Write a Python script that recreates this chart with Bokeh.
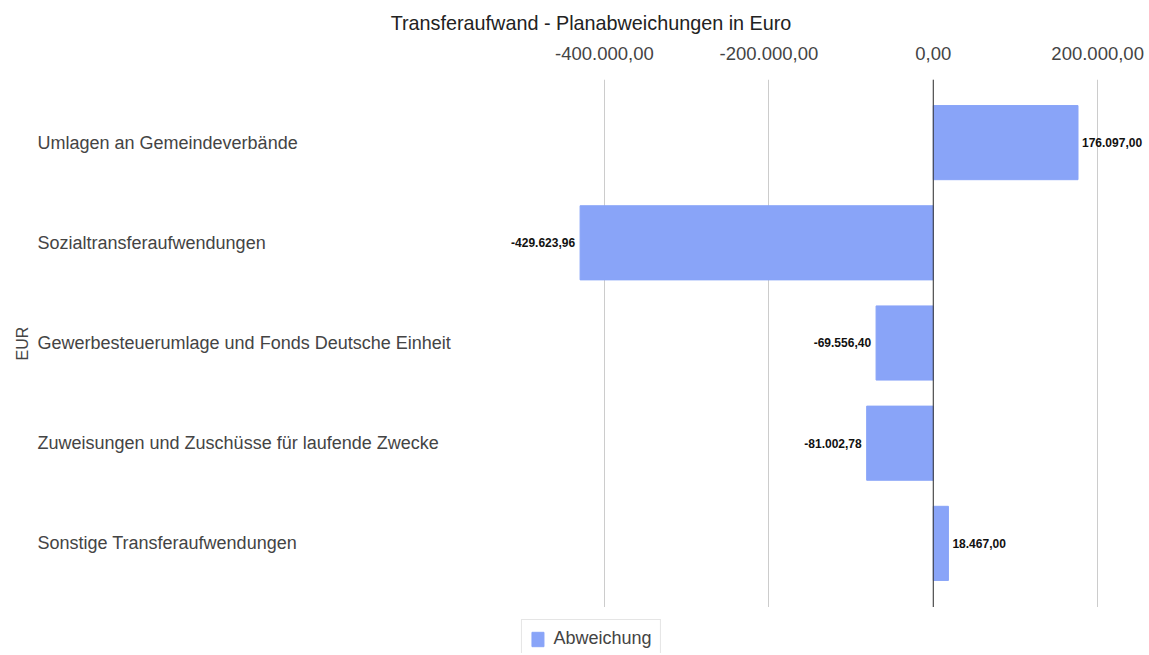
from bokeh.plotting import figure
from bokeh.layouts import column
from bokeh.models import Range1d, FixedTicker, Span, Legend, LegendItem, ColumnDataSource
from bokeh.core.properties import value
from bokeh.embed import file_html
from bokeh.resources import INLINE

categories = [
    "Umlagen an Gemeindeverbände",
    "Sozialtransferaufwendungen",
    "Gewerbesteuerumlage und Fonds Deutsche Einheit",
    "Zuweisungen und Zuschüsse für laufende Zwecke",
    "Sonstige Transferaufwendungen",
]
abweichung = [176097.00, -429623.96, -69556.40, -81002.78, 18467.00]
tick_values = [-400000, -200000, 0, 200000]
tick_labels = ["-400.000,00", "-200.000,00", "0,00", "200.000,00"]
series_name = "Abweichung"

FONT = "Liberation Sans"
BAR_COLOR = "#89A4F8"


def de_fmt(v):
    s = f"{abs(v):,.2f}".replace(",", "X").replace(".", ",").replace("X", ".")
    return ("-" if v < 0 else "") + s


pos = list(range(len(categories)))
src = ColumnDataSource(dict(
    y=pos, v=abweichung, cat=categories,
    lbl=[de_fmt(v) for v in abweichung],
))

X_START, X_END = -1090900, 258200

p = figure(width=1145, height=607, output_backend="svg", toolbar_location=None,
           x_range=Range1d(X_START, X_END), y_range=Range1d(4.64, -0.63),
           x_axis_location="above",
           title="Transferaufwand - Planabweichungen in Euro")
p.min_border_left = 0
p.min_border_right = 0
p.min_border_top = 0
p.min_border_bottom = 0
p.outline_line_color = None

p.title.align = "center"
p.title.text_font = FONT
p.title.text_font_size = "19.8px"
p.title.text_font_style = "normal"
p.title.text_color = "#222222"
p.title.offset = 3
p.title.standoff = 19

xa = p.xaxis[0]
xa.ticker = FixedTicker(ticks=tick_values)
xa.major_label_overrides = {t: l for t, l in zip(tick_values, tick_labels)}
xa.axis_line_color = None
xa.major_tick_line_color = None
xa.minor_tick_line_color = None
xa.major_label_text_font = FONT
xa.major_label_text_font_size = "18.5px"
xa.major_label_text_color = "#444444"
xa.major_label_standoff = 14
xa.major_label_text_baseline = "middle"

ya = p.yaxis[0]
ya.axis_label = "EUR"
ya.axis_label_text_font = FONT
ya.axis_label_text_font_size = "16px"
ya.axis_label_text_font_style = "normal"
ya.axis_label_text_color = "#444444"
ya.major_label_text_font_size = "0px"
ya.major_tick_line_color = None
ya.minor_tick_line_color = None
ya.axis_line_color = None
ya.axis_label_standoff = 0
ya.major_label_standoff = 0

p.xgrid.ticker = FixedTicker(ticks=tick_values)
p.xgrid.grid_line_color = "#cccccc"
p.ygrid.grid_line_color = None

p.hbar(y="y", right="v", left=0, height=0.74, color=BAR_COLOR, source=src)

p.add_layout(Span(location=0, dimension="height", line_color="#333333", line_width=1))

pos_src = ColumnDataSource(dict(
    y=[y for y, v in zip(pos, abweichung) if v >= 0],
    v=[v for v in abweichung if v >= 0],
    lbl=[de_fmt(v) for v in abweichung if v >= 0]))
neg_src = ColumnDataSource(dict(
    y=[y for y, v in zip(pos, abweichung) if v < 0],
    v=[v for v in abweichung if v < 0],
    lbl=[de_fmt(v) for v in abweichung if v < 0]))

p.text(x="v", y="y", text="lbl", source=pos_src, x_offset=4, text_align="left",
       text_baseline="middle", text_font=value(FONT), text_font_size="12px",
       text_font_style="bold", text_color="#111111")
p.text(x="v", y="y", text="lbl", source=neg_src, x_offset=-5, text_align="right",
       text_baseline="middle", text_font=value(FONT), text_font_size="12px",
       text_font_style="bold", text_color="#111111")

p.text(x=X_START, y="y", text="cat", source=src, x_offset=1, text_align="left",
       text_baseline="middle", text_font=value(FONT), text_font_size="18px",
       text_color="#444444")

# legend strip below the chart
lf = figure(width=1145, height=46, output_backend="svg", toolbar_location=None,
            x_range=Range1d(0, 1), y_range=Range1d(100, 101))
lf.axis.visible = False
lf.grid.grid_line_color = None
lf.outline_line_color = None
lf.min_border_left = 36
lf.min_border_right = 0
lf.min_border_top = 0
lf.min_border_bottom = 0
proxy = lf.hbar(y="y", right="v", left=0, height=0.74, color=BAR_COLOR, source=src)
legend = Legend(items=[LegendItem(label=series_name, renderers=[proxy])],
                location="top_center", orientation="horizontal")
legend.label_text_font = FONT
legend.label_text_font_size = "18px"
legend.label_text_color = "#444444"
legend.border_line_color = "#cccccc"
legend.glyph_width = 15
legend.glyph_height = 18
legend.label_standoff = 9
legend.padding = 8
legend.margin = 12
lf.add_layout(legend)

layout = column(p, lf, spacing=0)
open("out.html", "w").write(file_html(layout, INLINE))
